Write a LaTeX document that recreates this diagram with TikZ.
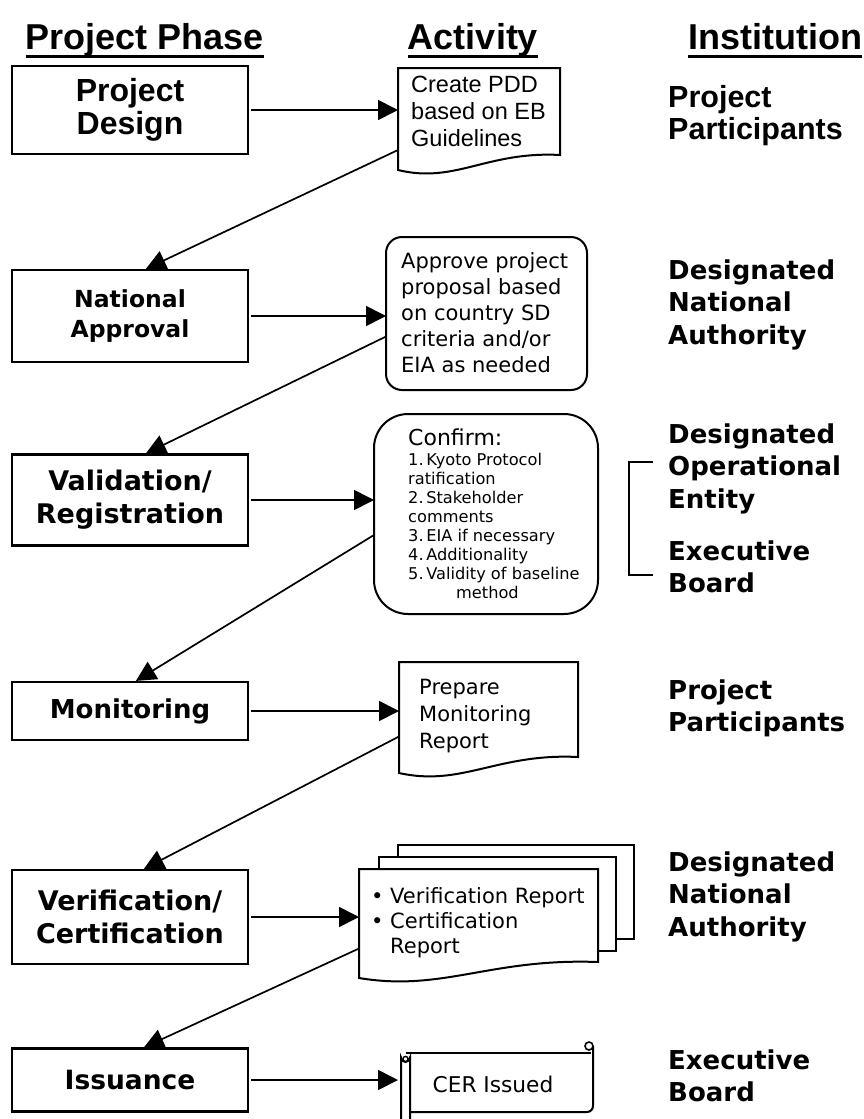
\documentclass[tikz,border=0pt]{standalone}
\usepackage{fontspec}
\setmainfont{DejaVu Sans}
\newfontfamily\narrowf{Liberation Sans}
\usetikzlibrary{arrows.meta,calc}
\newcommand\fsz[2]{\fontsize{#1pt}{#2pt}\selectfont}
\newcommand\blk[2]{\parbox[t]{#1pt}{\raggedright #2}}
\begin{document}
\begin{tikzpicture}[x=1pt,y=-1pt,
  phase/.style={draw, line width=2.2pt, minimum width=236pt, inner sep=0pt, align=center},
  area/.style={draw=none, inner sep=0pt, outer sep=0pt},
  rbox/.style={draw, line width=2pt, inner sep=0pt, outer sep=0pt},
  shp/.style={line width=2pt, line join=miter},
  arr/.style={line width=1.7pt, -{Triangle[length=20pt,width=20pt]}},
  lbl/.style={anchor=base west, inner sep=0pt},
  hdr/.style={anchor=base, inner sep=0pt, font=\narrowf\bfseries\fsz{36}{40}},
  hdrl/.style={anchor=base west, inner sep=0pt, font=\narrowf\bfseries\fsz{36}{40}},
  inst/.style={anchor=base west, inner sep=0pt, font=\bfseries\fsz{26}{32.5}},
  uline/.style={line width=3pt}]
\useasboundingbox (0,0) rectangle (863,1119);
\fill[white] (0,0) rectangle (863,1119);

% headers
\node[hdr] (h1) at (145,49) {Project Phase};
\node[hdr] (h2) at (473,49) {Activity};
\node[hdrl] (h3) at (688,49) {Institution};
\foreach \h in {h1,h2,h3}
  \draw[uline] ([yshift=-7pt]\h.base west) -- ([yshift=-7pt]\h.base east);

% phase boxes
\node[phase, minimum height=88pt, font=\narrowf\bfseries\fsz{32}{33}] (p1) at (130,110) {Project\\Design};
\node[phase, minimum height=92pt, font=\bfseries\fsz{23.5}{30}] (p2) at (130,316) {National\\Approval};
\node[phase, minimum height=91pt, font=\bfseries\fsz{27}{33}] (p3) at (130,500) {Validation/\\Registration};
\node[phase, minimum height=58pt, font=\bfseries\fsz{26}{30}] (p4) at (130,711) {Monitoring};
\node[phase, minimum height=94pt, font=\bfseries\fsz{27}{33}] (p5) at (130,917) {Verification/\\Certification};
\node[phase, minimum height=63pt, font=\bfseries\fsz{26.5}{30}] (p6) at (130,1080) {Issuance};

% activity 1: document
\node[area, minimum width=162pt, minimum height=87pt] (a1) at (479,111.5) {};
\draw[shp] (398,68) -- (560,68) -- (560,155) .. controls (487,151) and (455,184) .. (398,170) -- cycle;
\node[lbl] (t1) at (411,92) {\narrowf\fsz{23.5}{27}\blk{150}{Create PDD\\based on EB\\Guidelines}};

% activity 2: rounded box
\node[rbox, rounded corners=16pt, minimum width=201pt, minimum height=153pt] (a2) at (486.5,313.5) {};
\node[lbl] (t2) at (401,268) {\fsz{21}{26}\blk{190}{Approve project\\proposal based\\on country SD\\criteria and/or\\EIA as needed}};

% activity 3: rounded box
\node[rbox, rounded corners=34pt, minimum width=224pt, minimum height=200pt] (a3) at (486,514) {};
\node[lbl] (t3a) at (408,445) {\fsz{22}{24}Confirm:};
\node[lbl] (t3b) at (408,465) {\fsz{16.2}{19}\blk{200}{1.\,Kyoto Protocol\\ratification\\2.\,Stakeholder\\comments\\3.\,EIA if necessary\\4.\,Additionality\\5.\,Validity of baseline\\\hspace*{48pt}method}};

% activity 4: document
\node[area, minimum width=179pt, minimum height=95pt] (a4) at (488.5,709.5) {};
\draw[shp] (399,662) -- (578,662) -- (578,757) .. controls (497,753) and (462,787) .. (399,773) -- cycle;
\node[lbl] (t4) at (419,694) {\fsz{21}{27}\blk{150}{Prepare\\Monitoring\\Report}};

% activity 5: multi-document
\node[area, minimum width=239pt, minimum height=93pt] (a5) at (478.5,915.5) {};
\draw[shp] (398,857) -- (398,845) -- (634,845) -- (634,939) -- (616,939);
\draw[shp] (379,869) -- (379,857) -- (616,857) -- (616,951) -- (598,951);
\draw[shp, fill=white] (359,869) -- (598,869) -- (598,962) .. controls (490,958) and (443,992) .. (359,978) -- cycle;
\node[lbl] (t5) at (371,903) {\fsz{21}{25}\blk{240}{\makebox[19pt][l]{\textbullet}Verification Report\\\makebox[19pt][l]{\textbullet}Certification\\\hspace*{19pt}Report}};

% activity 6: scroll
\node[area, minimum width=195pt, minimum height=60pt] (a6) at (495.5,1082) {};
\draw[shp] (401,1119) -- (401,1057.5) arc[start angle=180, end angle=0, radius=4.5] -- (410,1119);
\draw[line width=1.4pt] (405.5,1059) circle[radius=2.6];
\draw[shp] (405.5,1053) -- (591,1053);
\draw[line width=1.6pt] (589,1046) circle[radius=4];
\draw[shp] (593,1046) -- (593,1106) arc[start angle=0, end angle=90, radius=6] -- (410,1112);
\node[anchor=base, inner sep=0pt] (t6) at (493,1092) {\fsz{21.7}{25}CER Issued};

% institutions
\node[anchor=base west, inner sep=0pt] (i1) at (668,107) {\narrowf\bfseries\fsz{30.5}{32}\blk{200}{Project\\Participants}};
\node[inst] (i2) at (668,279) {\blk{200}{Designated\\National\\Authority}};
\node[inst] (i3) at (668,443) {\blk{200}{Designated\\Operational\\Entity}};
\node[inst] (i3b) at (668,560) {\blk{200}{Executive\\Board}};
\node[inst] (i4) at (668,699) {\blk{200}{Project\\Participants}};
\node[inst] (i5) at (668,871) {\blk{200}{Designated\\National\\Authority}};
\node[inst] (i6) at (668,1069) {\blk{200}{Executive\\Board}};
\draw[line width=1.7pt] (653,462) -- (629,462) -- (629,575) -- (653,575);

% horizontal connectors
\draw[arr] ([xshift=2pt]p1.east) -- (p1.east -| a1.west);
\draw[arr] ([xshift=2pt]p2.east) -- (p2.east -| a2.west);
\draw[arr] ([xshift=2pt]p3.east) -- (p3.east -| a3.west);
\draw[arr] ([xshift=2pt]p4.east) -- (p4.east -| a4.west);
\draw[arr] ([xshift=2pt]p5.east) -- (p5.east -| a5.west);
\draw[arr] ([xshift=2pt]p6.east) -- (p6.east -| a6.west);

% diagonal connectors
\draw[arr] ($(a1.south west)+(0,-5)$) -- ($(p2.north west)+(135,0)$);
\draw[arr] ($(a2.west)+(0,23)$) -- ($(p3.north west)+(135,0)$);
\draw[arr] ($(a3.west)+(0,21)$) -- ($(p4.north west)+(125,0)$);
\draw[arr] ($(a4.west)+(0,27)$) -- ($(p5.north west)+(133,0)$);
\draw[arr] ($(a5.west)+(0,33)$) -- ($(p6.north west)+(133,0)$);
\end{tikzpicture}
\end{document}
